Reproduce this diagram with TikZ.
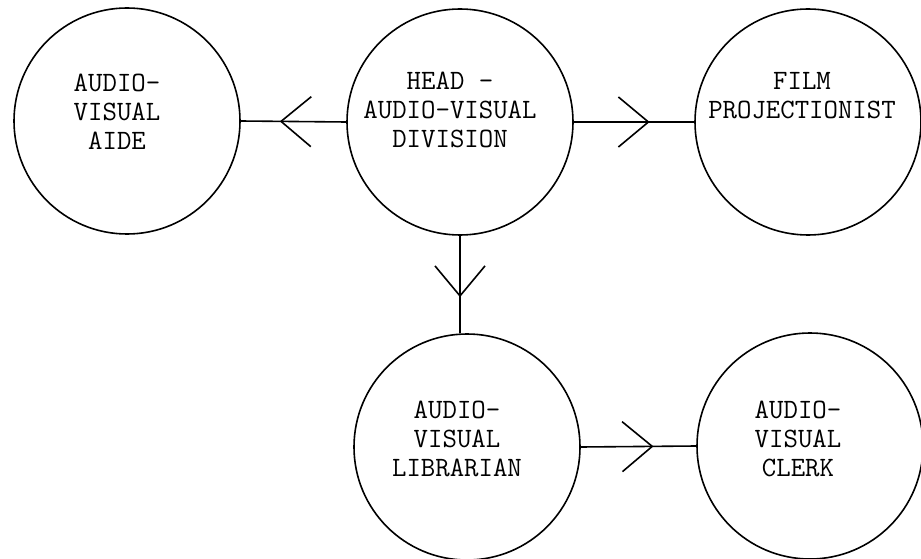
\documentclass[tikz,border=0pt]{standalone}
\usepackage{fontspec}
\usepackage{tikz}
\usetikzlibrary{arrows.meta,calc,decorations.markings,positioning}
\tikzset{>=latex}
\tikzset{
  unit/.style={draw, circle, line width=0.8pt, minimum size=113pt, inner sep=0pt},
  tag/.style={anchor=north, inner sep=0pt, align=center,
    font=\fontsize{14}{14.5}\selectfont\ttfamily},
  link/.style={line width=0.8pt, postaction={decorate},
    decoration={markings, mark=at position 0.63 with
      {\arrow{Straight Barb[length=15pt,width=25pt]}}}}
}

\begin{document}
\begin{tikzpicture}[x=0.5pt,y=0.5pt]
          \useasboundingbox (0,0) rectangle (921,558);
          \node[unit] at (127,437) (aide) {};
          \node[unit] at (460,436) (head) {};
          \node[unit] at (808,436) (film) {};
          \node[unit] at (467,111) (lib) {};
          \node[unit] at (810,112) (clerk) {};
          \node[tag] at ([shift={(-10,47)}]aide.center) (aidetxt)
          {AUDIO-\\VISUAL\\AIDE};
          \node[tag] at ([shift={(-10,50)}]head.center) (headtxt)
          {HEAD -\\AUDIO-VISUAL\\DIVISION};
          \node[tag] at ([shift={(-6,50)}]film.center) (filmtxt)
          {FILM\\PROJECTIONIST};
          \node[tag] at ([shift={(-10,46)}]lib.center) (libtxt)
          {AUDIO-\\VISUAL\\LIBRARIAN};
          \node[tag] at ([shift={(-12,45)}]clerk.center) (clerktxt)
          {AUDIO-\\VISUAL\\CLERK};
          % \draw[->] (head) to (aide);
          \draw[link] (head.west) -- (aide.east);
          \draw[link] (head.east) -- (film.west);
          \draw[link] (head.south) -- (head.south |- lib.north);
          \draw[link] (lib.east) -- (clerk.west);
        \end{tikzpicture}
\end{document}
